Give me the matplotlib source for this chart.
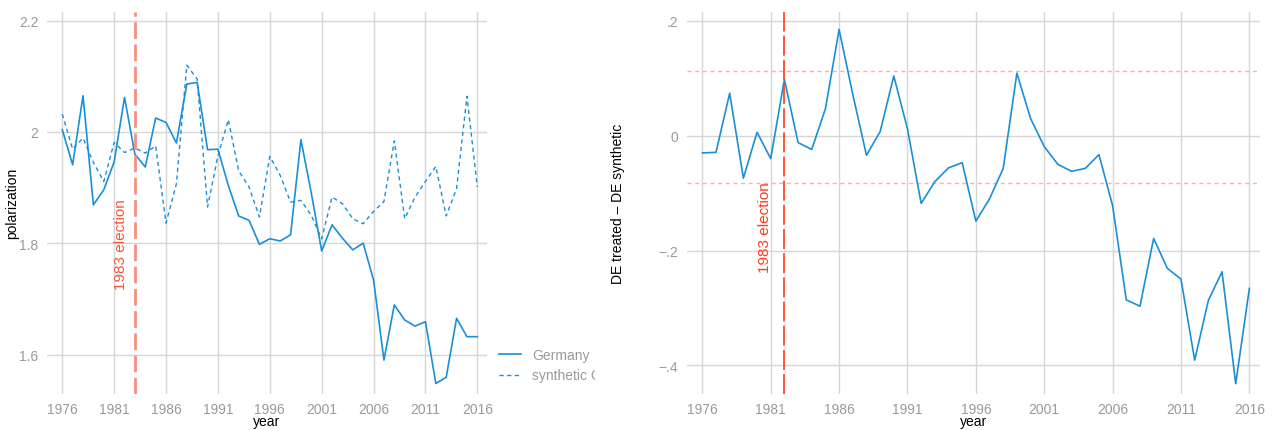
import numpy as np
import matplotlib as mpl
import matplotlib.pyplot as plt
from matplotlib.transforms import Bbox, TransformedBbox, IdentityTransform

mpl.rcParams['font.family'] = ['Liberation Sans', 'DejaVu Sans']

years = np.arange(1976, 2017)

germany = [2.004, 1.941, 2.065, 1.869, 1.896, 1.946, 2.062, 1.960, 1.937, 2.025,
           2.017, 1.980, 2.086, 2.089, 1.968, 1.969, 1.904, 1.849, 1.841, 1.798,
           1.808, 1.804, 1.815, 1.986, 1.890, 1.786, 1.833, 1.809, 1.788, 1.800,
           1.734, 1.590, 1.689, 1.662, 1.651, 1.659, 1.548, 1.559, 1.665, 1.632,
           1.632]

synthetic = [2.032, 1.969, 1.989, 1.945, 1.911, 1.981, 1.963, 1.971, 1.962, 1.975,
             1.836, 1.907, 2.120, 2.095, 1.865, 1.957, 2.022, 1.930, 1.901, 1.847,
             1.956, 1.922, 1.874, 1.877, 1.850, 1.808, 1.883, 1.871, 1.844, 1.835,
             1.857, 1.875, 1.984, 1.844, 1.883, 1.911, 1.938, 1.849, 1.898, 2.064,
             1.901]

gap = [-0.030, -0.029, 0.074, -0.074, 0.006, -0.040, 0.098, -0.012, -0.024, 0.047,
       0.185, 0.072, -0.034, 0.007, 0.104, 0.012, -0.118, -0.080, -0.056, -0.047,
       -0.149, -0.110, -0.057, 0.109, 0.030, -0.019, -0.050, -0.062, -0.057, -0.033,
       -0.122, -0.286, -0.297, -0.179, -0.231, -0.250, -0.391, -0.287, -0.237, -0.432,
       -0.266]

band = [0.113, -0.0825]

left_ticks = [1.6, 1.8, 2.0, 2.2]
left_labels = ['1.6', '1.8', '2', '2.2']
right_ticks = [-0.4, -0.2, 0.0, 0.2]
right_labels = ['\u2212.4', '\u2212.2', '0', '.2']
x_ticks = np.arange(1976, 2017, 5)

blue = '#1a8fd8'
grid_c = '#d6d6d6'
tick_c = '#9a9a9a'


def style_axes(axes):
    for s in axes.spines.values():
        s.set_visible(False)
    axes.grid(color=grid_c, lw=1)
    axes.set_axisbelow(True)
    axes.tick_params(length=0, labelcolor=tick_c, labelsize=10, pad=6)
    axes.set_xticks(x_ticks)
    axes.set_xlabel('year', fontsize=10)
    axes.xaxis.set_label_coords(0.5, -0.052)


fig = plt.figure(figsize=(12.76, 4.31), dpi=100)

ax1 = fig.add_axes([0.0366, 0.0835, 0.3448, 0.887])
style_axes(ax1)
ax1.set_xlim(1974.5, 2016.9)
ax1.set_ylim(1.529, 2.216)
ax1.set_yticks(left_ticks)
ax1.set_yticklabels(left_labels)
ax1.plot(years, germany, color=blue, lw=1.2, label='Germany')
ax1.plot(years, synthetic, color=blue, lw=1.0, ls=(0, (3, 2.5)), label='synthetic Germany')
ax1.axvline(1983, color='#f4907f', lw=2, ls=(0, (6, 2)))
ax1.text(1982.3, 1.80, '1983 election', rotation=90, color='#f2553a',
         fontsize=11, ha='right', va='center')
ax1.set_ylabel('polarization', fontsize=10)
ax1.yaxis.set_label_coords(-0.062, 0.5)
leg = ax1.legend(loc='center left', bbox_to_anchor=(1.0, 0.075), frameon=False,
                 fontsize=10, handlelength=1.6, handletextpad=0.8, labelspacing=0.45)
# the reference cuts the legend off at the right panel's edge
clip = TransformedBbox(Bbox([[0, 0], [595, 431]]), IdentityTransform())
for t in leg.get_texts():
    t.set_color(tick_c)
    t.set_clip_box(clip)
    t.set_clip_on(True)

ax2 = fig.add_axes([0.5382, 0.0835, 0.4493, 0.887])
style_axes(ax2)
ax2.set_xlim(1974.86, 2016.78)
ax2.set_ylim(-0.450, 0.216)
ax2.set_yticks(right_ticks)
ax2.set_yticklabels(right_labels)
for b in band:
    ax2.axhline(b, color='#ffb0a3', lw=1, ls=(0, (3, 2.5)))
ax2.plot(years, gap, color=blue, lw=1.2)
ax2.axvline(1982, color='#ff3a1a', lw=1.2, ls=(0, (12, 2.5)))
ax2.text(1981.1, -0.159, '1983 election', rotation=90, color='#ff3a1a',
         fontsize=11, ha='right', va='center')
ax2.set_ylabel('DE treated \u2013 DE synthetic', fontsize=10)
ax2.yaxis.set_label_coords(-0.108, 0.5)

plt.savefig('out.png', dpi=100)
plt.close(fig)
